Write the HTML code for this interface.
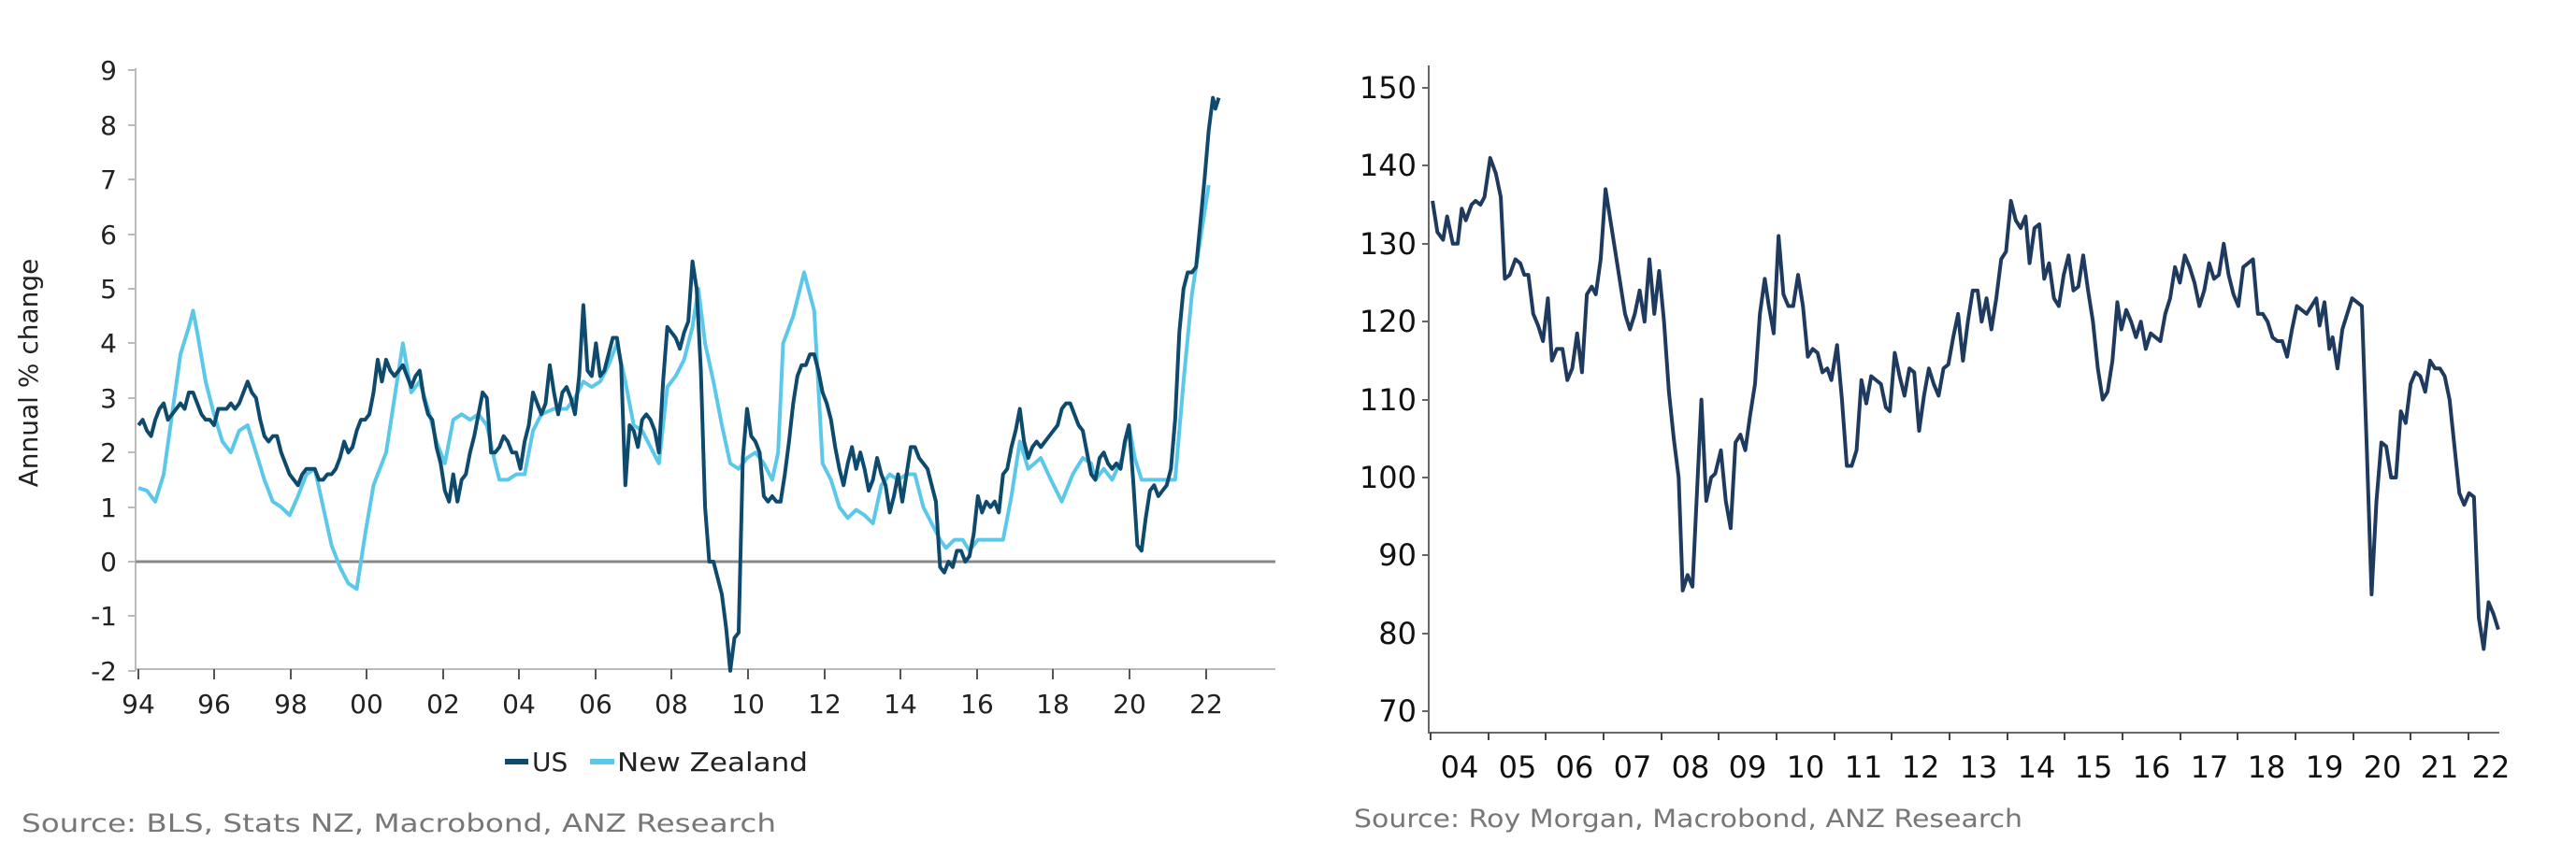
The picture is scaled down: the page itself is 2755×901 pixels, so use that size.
<!DOCTYPE html>
<html><head><meta charset="utf-8"><style>
html,body{margin:0;padding:0;background:#fff;}
svg{display:block;}
text{font-family:"DejaVu Sans","Liberation Sans",sans-serif;}
</style></head><body>
<svg width="2755" height="901" viewBox="0 0 2755 901" xmlns="http://www.w3.org/2000/svg">
<!-- LEFT CHART -->
<g fill="#222" font-size="28" text-anchor="end">
<text x="125" y="85">9</text><text x="125" y="144">8</text><text x="125" y="202">7</text><text x="125" y="261">6</text><text x="125" y="319">5</text><text x="125" y="377">4</text><text x="125" y="436">3</text><text x="125" y="494">2</text><text x="125" y="553">1</text><text x="125" y="611">0</text><text x="125" y="669">-1</text><text x="125" y="728">-2</text>
</g>
<g stroke="#bbb" stroke-width="2">
<line x1="145" y1="73" x2="145" y2="718"/>
<line x1="145" y1="716" x2="1364" y2="716"/>
<line x1="137" y1="75" x2="145" y2="75"/><line x1="137" y1="134" x2="145" y2="134"/><line x1="137" y1="192" x2="145" y2="192"/><line x1="137" y1="251" x2="145" y2="251"/><line x1="137" y1="309" x2="145" y2="309"/><line x1="137" y1="367" x2="145" y2="367"/><line x1="137" y1="426" x2="145" y2="426"/><line x1="137" y1="484" x2="145" y2="484"/><line x1="137" y1="543" x2="145" y2="543"/><line x1="137" y1="601" x2="145" y2="601"/><line x1="137" y1="659" x2="145" y2="659"/><line x1="137" y1="718" x2="145" y2="718"/>
</g>
<g stroke="#555" stroke-width="2">
<line x1="148" y1="716" x2="148" y2="727"/><line x1="229" y1="716" x2="229" y2="727"/><line x1="311" y1="716" x2="311" y2="727"/><line x1="392" y1="716" x2="392" y2="727"/><line x1="474" y1="716" x2="474" y2="727"/><line x1="555" y1="716" x2="555" y2="727"/><line x1="637" y1="716" x2="637" y2="727"/><line x1="718" y1="716" x2="718" y2="727"/><line x1="800" y1="716" x2="800" y2="727"/><line x1="882" y1="716" x2="882" y2="727"/><line x1="963" y1="716" x2="963" y2="727"/><line x1="1045" y1="716" x2="1045" y2="727"/><line x1="1126" y1="716" x2="1126" y2="727"/><line x1="1208" y1="716" x2="1208" y2="727"/><line x1="1290" y1="716" x2="1290" y2="727"/>
</g>
<g fill="#222" font-size="28" text-anchor="middle">
<text x="148" y="763">94</text><text x="229" y="763">96</text><text x="311" y="763">98</text><text x="392" y="763">00</text><text x="474" y="763">02</text><text x="555" y="763">04</text><text x="637" y="763">06</text><text x="718" y="763">08</text><text x="800" y="763">10</text><text x="882" y="763">12</text><text x="963" y="763">14</text><text x="1045" y="763">16</text><text x="1126" y="763">18</text><text x="1208" y="763">20</text><text x="1290" y="763">22</text>
</g>
<text x="0" y="0" transform="translate(40,399) rotate(-90)" font-size="28" fill="#222" text-anchor="middle">Annual % change</text>
<line x1="145" y1="601" x2="1364" y2="601" stroke="#888" stroke-width="3"/>
<g transform="translate(0,601) scale(0.8977,-58.4)" fill="none" stroke-linejoin="round">
<polyline vector-effect="non-scaling-stroke" stroke="#5bc8ea" stroke-width="4" points="165,1.35 175,1.3 185,1.1 195,1.6 205,2.7 215,3.8 225,4.3 230,4.6 235,4.2 245,3.3 255,2.7 265,2.2 275,2.0 285,2.4 295,2.5 305,2.0 315,1.5 325,1.1 335,1.0 345,0.85 355,1.2 365,1.6 375,1.7 385,1.0 395,0.3 405,-0.1 415,-0.4 425,-0.5 435,0.5 445,1.4 460,2.0 470,3.0 480,4.0 490,3.1 500,3.3 510,2.8 520,2.2 530,1.8 540,2.6 550,2.7 560,2.6 570,2.7 580,2.5 590,1.8 595,1.5 605,1.5 615,1.6 625,1.6 635,2.4 645,2.7 660,2.8 675,2.8 685,3.0 695,3.3 705,3.2 715,3.3 725,3.6 735,4.0 745,3.3 755,2.5 765,2.4 775,2.1 785,1.8 795,3.2 805,3.4 815,3.7 825,4.3 832,5.0 840,4.0 850,3.3 860,2.5 870,1.8 880,1.7 890,1.9 900,2.0 910,1.8 920,1.5 927,2.0 933,4.0 945,4.5 958,5.3 970,4.6 980,1.8 990,1.5 1000,1.0 1010,0.8 1020,0.95 1030,0.85 1040,0.7 1050,1.4 1060,1.6 1070,1.5 1080,1.6 1090,1.6 1100,1.0 1110,0.7 1120,0.4 1127,0.25 1137,0.4 1147,0.4 1155,0.2 1165,0.4 1175,0.4 1185,0.4 1195,0.4 1205,1.2 1215,2.2 1225,1.7 1240,1.9 1252,1.5 1265,1.1 1278,1.6 1290,1.9 1300,1.8 1305,1.5 1315,1.7 1325,1.5 1337,1.9 1345,2.5 1352,1.9 1360,1.5 1375,1.5 1390,1.5 1400,1.5 1410,3.3 1420,4.9 1430,5.9 1440,6.9"/>
<polyline vector-effect="non-scaling-stroke" stroke="#0d4a6e" stroke-width="4" points="165,2.5 170,2.6 175,2.4 180,2.3 185,2.6 190,2.8 195,2.9 200,2.6 205,2.7 210,2.8 215,2.9 220,2.8 225,3.1 230,3.1 235,2.9 240,2.7 245,2.6 250,2.6 255,2.5 260,2.8 265,2.8 270,2.8 275,2.9 280,2.8 285,2.9 290,3.1 295,3.3 300,3.1 305,3.0 310,2.6 315,2.3 320,2.2 325,2.3 330,2.3 335,2.0 340,1.8 345,1.6 350,1.5 355,1.4 360,1.6 365,1.7 370,1.7 375,1.7 380,1.5 385,1.5 390,1.6 395,1.6 400,1.7 405,1.9 410,2.2 415,2.0 420,2.1 425,2.4 430,2.6 435,2.6 440,2.7 445,3.1 450,3.7 455,3.3 460,3.7 465,3.5 470,3.4 475,3.5 480,3.6 485,3.4 490,3.2 495,3.4 500,3.5 505,3.0 510,2.7 515,2.6 520,2.1 525,1.8 530,1.3 535,1.1 540,1.6 545,1.1 550,1.5 555,1.6 560,2.0 565,2.3 570,2.7 575,3.1 580,3.0 585,2.0 590,2.0 595,2.1 600,2.3 605,2.2 610,2.0 615,2.0 620,1.7 625,2.2 630,2.5 635,3.1 640,2.9 645,2.7 650,2.9 655,3.6 660,3.1 665,2.7 670,3.1 675,3.2 680,3.0 685,2.7 690,3.4 695,4.7 700,3.5 705,3.4 710,4.0 715,3.4 720,3.5 725,3.8 730,4.1 735,4.1 740,3.6 745,1.4 750,2.5 755,2.4 760,2.1 765,2.6 770,2.7 775,2.6 780,2.4 785,2.0 790,3.3 795,4.3 800,4.2 805,4.1 810,3.9 815,4.2 820,4.4 825,5.5 830,5.0 835,3.5 840,1.0 845,0.0 850,0.0 855,-0.3 860,-0.6 865,-1.2 870,-2.0 875,-1.4 880,-1.3 885,1.9 890,2.8 895,2.3 900,2.2 905,2.0 910,1.2 915,1.1 920,1.2 925,1.1 930,1.1 935,1.6 940,2.2 945,2.9 950,3.4 955,3.6 960,3.6 965,3.8 970,3.8 975,3.5 980,3.1 985,2.9 990,2.6 995,2.1 1000,1.7 1005,1.4 1010,1.8 1015,2.1 1020,1.7 1025,2.0 1030,1.7 1035,1.3 1040,1.5 1045,1.9 1050,1.6 1055,1.4 1060,0.9 1065,1.2 1070,1.6 1075,1.1 1080,1.6 1085,2.1 1090,2.1 1095,1.9 1100,1.8 1105,1.7 1110,1.4 1115,1.1 1120,-0.1 1125,-0.2 1130,0.0 1135,-0.1 1140,0.2 1145,0.2 1150,0.0 1155,0.1 1160,0.5 1165,1.2 1170,0.9 1175,1.1 1180,1.0 1185,1.1 1190,0.9 1195,1.6 1200,1.7 1205,2.1 1210,2.4 1215,2.8 1220,2.2 1225,1.9 1230,2.1 1235,2.2 1240,2.1 1245,2.2 1250,2.3 1255,2.4 1260,2.5 1265,2.8 1270,2.9 1275,2.9 1280,2.7 1285,2.5 1290,2.4 1295,2.0 1300,1.6 1305,1.5 1310,1.9 1315,2.0 1320,1.8 1325,1.7 1330,1.8 1335,1.7 1340,2.2 1345,2.5 1350,1.5 1355,0.3 1360,0.2 1365,0.8 1370,1.3 1375,1.4 1380,1.2 1385,1.3 1390,1.4 1395,1.7 1400,2.6 1405,4.2 1410,5.0 1415,5.3 1420,5.3 1425,5.4 1430,6.2 1435,7.0 1440,7.9 1445,8.5 1448,8.3 1452,8.5"/>
</g>
<line x1="540" y1="815" x2="565" y2="815" stroke="#0d4a6e" stroke-width="6"/>
<text x="569" y="825" font-size="28" fill="#222">US</text>
<line x1="631" y1="815" x2="657" y2="815" stroke="#5bc8ea" stroke-width="6"/>
<text x="660" y="825" font-size="28" fill="#222" textLength="204" lengthAdjust="spacingAndGlyphs">New Zealand</text>
<text x="23" y="890" font-size="27" fill="#777" textLength="807" lengthAdjust="spacingAndGlyphs">Source: BLS, Stats NZ, Macrobond, ANZ Research</text>

<!-- RIGHT CHART -->
<g fill="#111" font-size="32" text-anchor="end">
<text x="1515" y="105">150</text><text x="1515" y="188">140</text><text x="1515" y="272">130</text><text x="1515" y="355">120</text><text x="1515" y="439">110</text><text x="1515" y="522">100</text><text x="1515" y="605">90</text><text x="1515" y="689">80</text><text x="1515" y="772">70</text>
</g>
<g stroke="#666" stroke-width="2">
<line x1="1528" y1="70" x2="1528" y2="785"/>
<line x1="1528" y1="784" x2="2673" y2="784"/>
<line x1="1521" y1="94" x2="1528" y2="94"/><line x1="1521" y1="177" x2="1528" y2="177"/><line x1="1521" y1="261" x2="1528" y2="261"/><line x1="1521" y1="344" x2="1528" y2="344"/><line x1="1521" y1="428" x2="1528" y2="428"/><line x1="1521" y1="511" x2="1528" y2="511"/><line x1="1521" y1="594" x2="1528" y2="594"/><line x1="1521" y1="678" x2="1528" y2="678"/><line x1="1521" y1="761" x2="1528" y2="761"/>
</g>
<g stroke="#444" stroke-width="2">
<line x1="1530" y1="784" x2="1530" y2="792"/><line x1="1592" y1="784" x2="1592" y2="792"/><line x1="1653" y1="784" x2="1653" y2="792"/><line x1="1715" y1="784" x2="1715" y2="792"/><line x1="1777" y1="784" x2="1777" y2="792"/><line x1="1838" y1="784" x2="1838" y2="792"/><line x1="1900" y1="784" x2="1900" y2="792"/><line x1="1962" y1="784" x2="1962" y2="792"/><line x1="2023" y1="784" x2="2023" y2="792"/><line x1="2085" y1="784" x2="2085" y2="792"/><line x1="2147" y1="784" x2="2147" y2="792"/><line x1="2208" y1="784" x2="2208" y2="792"/><line x1="2270" y1="784" x2="2270" y2="792"/><line x1="2332" y1="784" x2="2332" y2="792"/><line x1="2393" y1="784" x2="2393" y2="792"/><line x1="2455" y1="784" x2="2455" y2="792"/><line x1="2517" y1="784" x2="2517" y2="792"/><line x1="2578" y1="784" x2="2578" y2="792"/><line x1="2640" y1="784" x2="2640" y2="792"/>
</g>
<g fill="#111" font-size="32" text-anchor="middle">
<text x="1561" y="832">04</text><text x="1623" y="832">05</text><text x="1684" y="832">06</text><text x="1746" y="832">07</text><text x="1808" y="832">08</text><text x="1869" y="832">09</text><text x="1931" y="832">10</text><text x="1993" y="832">11</text><text x="2054" y="832">12</text><text x="2116" y="832">13</text><text x="2178" y="832">14</text><text x="2239" y="832">15</text><text x="2301" y="832">16</text><text x="2363" y="832">17</text><text x="2424" y="832">18</text><text x="2486" y="832">19</text><text x="2548" y="832">20</text><text x="2609" y="832">21</text><text x="2664" y="832">22</text>
</g>
<g transform="translate(1400,1345) scale(0.8688,-8.34)" fill="none" stroke-linejoin="round">
<polyline vector-effect="non-scaling-stroke" stroke="#1f3a5f" stroke-width="4" points="152,135.5 158,131.5 165,130.5 170,133.5 177,130 183,130 188,134.5 193,133 200,135 205,135.5 211,135 216,136 223,141 230,139 236,136 241,125.5 247,126 254,128 260,127.5 265,126 270,126 276,121 282,119.5 288,117.5 294,123 299,115 305,116.5 312,116.5 318,112.5 324,114 330,118.5 336,113.5 342,123.5 348,124.5 353,123.5 359,128 365,137 371,133 377,129 383,125 389,121 395,119 401,121 407,124 413,120 419,128 425,121 431,126.5 437,120 443,111 449,105 455,100 460,85.5 466,87.5 472,86 483,110 489,97 495,100 500,100.5 507,103.5 513,97 519,93.5 525,104.5 531,105.5 537,103.5 543,108 549,112 555,121 561,125.5 566,122 572,118.5 578,131 584,123.5 590,122 596,122 602,126 608,122 614,115.5 620,116.5 626,116 632,113.5 638,114 643,112.5 650,117 656,110 662,101.5 668,101.5 674,103.5 680,112.5 686,109.5 692,113 698,112.5 704,112 710,109 715,108.5 721,116 727,113 733,110.5 739,114 745,113.5 751,106 757,110.5 763,114 769,112 775,110.5 781,114 787,114.5 793,118 799,121 805,115 811,120 817,124 823,124 828,120 834,123 840,119 846,123 852,128 858,129 864,135.5 870,133 876,132 882,133.5 887,127.5 893,132 899,132.5 905,125.5 911,127.5 917,123 923,122 929,126 935,128.5 941,124 947,124.5 953,128.5 959,124 965,120 971,114 977,110 983,111 989,115 995,122.5 1000,119 1006,121.5 1012,120 1018,118 1024,120 1030,116.5 1036,118.5 1042,118 1048,117.5 1054,121 1060,123 1066,127 1072,125 1078,128.5 1084,127 1090,125 1096,122 1102,124 1108,127.5 1114,125.5 1120,126 1126,130 1132,126 1138,123.5 1144,122 1150,127 1156,127.5 1162,128 1168,121 1174,121 1180,120 1186,118 1192,117.5 1198,117.5 1204,115.5 1210,119 1216,122 1222,121.5 1228,121 1234,122 1240,123 1244,119.5 1250,122.5 1256,116.5 1260,118 1266,114 1272,119 1278,121 1284,123 1290,122.5 1296,122 1302,104 1308,85 1314,97 1320,104.5 1326,104 1332,100 1338,100 1344,108.5 1350,107 1356,112 1362,113.5 1368,113 1374,111 1380,115 1386,114 1392,114 1398,113 1404,110 1410,104 1416,98 1422,96.5 1428,98 1434,97.5 1440,82 1446,78 1452,84 1458,82.5 1464,80.5"/>
</g>
<text x="1448" y="885" font-size="27" fill="#777" textLength="715" lengthAdjust="spacingAndGlyphs">Source: Roy Morgan, Macrobond, ANZ Research</text>
</svg>
</body></html>
